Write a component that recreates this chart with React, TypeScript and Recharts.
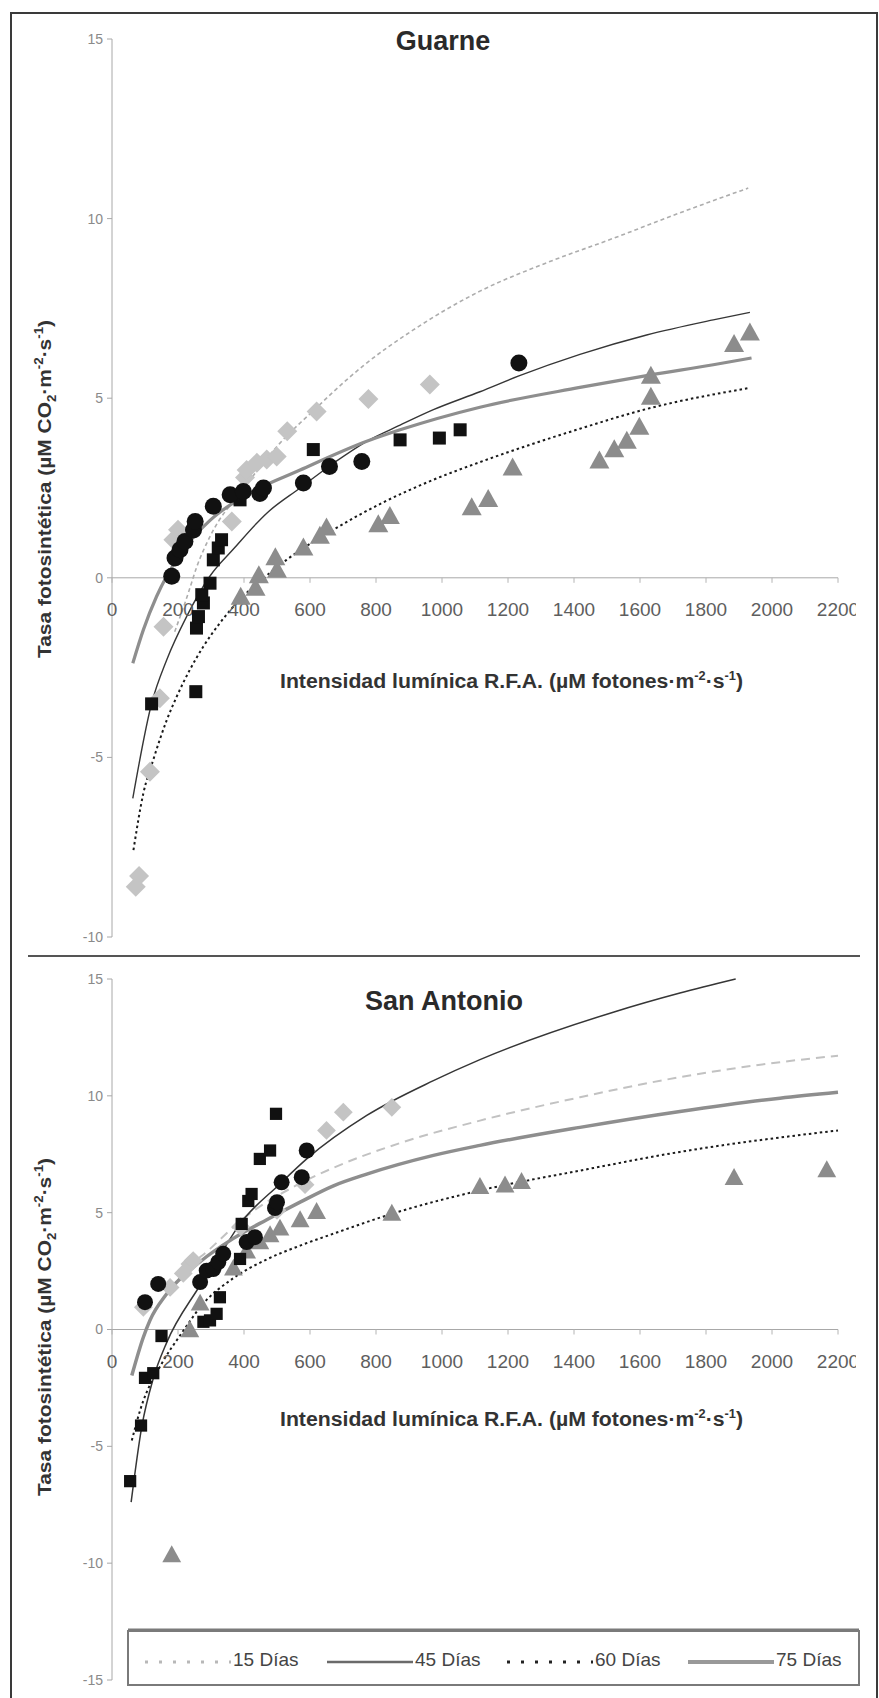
import { ComposedChart, Line, Scatter, XAxis, YAxis, ReferenceLine, ReferenceDot } from 'recharts';

type Pt = { x: number; y: number };
const toPts = (rows: number[][]): Pt[] => rows.map(([x, y]) => ({ x, y }));

// axis ticks
const xTicks = [0, 200, 400, 600, 800, 1000, 1200, 1400, 1600, 1800, 2000, 2200];
const guarneYTicks = [15, 10, 5, 0, -5, -10];
const sanAntonioYTicks = [15, 10, 5, 0, -5, -10, -15];
const seriesNames = ['15 Días', '45 Días', '60 Días', '75 Días'];

// Guarne - measured points
const guarneDiamonds = toPts([[72, -8.6], [82, -8.3], [115, -5.4], [145, -3.35], [156, -1.36], [186, 1.06], [200, 1.34], [363, 1.57], [403, 2.79], [408, 3.0], [439, 3.2], [469, 3.29], [499, 3.38], [531, 4.08], [620, 4.63], [777, 4.98], [963, 5.38]]);
const guarneSquares = toPts([[120, -3.51], [254, -3.17], [256, -1.4], [262, -1.08], [277, -0.7], [272, -0.47], [297, -0.15], [307, 0.5], [322, 0.83], [332, 1.06], [388, 2.17], [610, 3.57], [873, 3.84], [992, 3.89], [1055, 4.12]]);
const guarneCircles = toPts([[181, 0.04], [191, 0.55], [206, 0.78], [221, 1.01], [247, 1.33], [252, 1.57], [307, 1.99], [358, 2.31], [398, 2.4], [448, 2.35], [459, 2.5], [580, 2.64], [659, 3.1], [757, 3.24], [1233, 5.98]]);
const guarneTriangles = toPts([[390, -0.5], [435, -0.25], [445, 0.1], [500, 0.25], [495, 0.6], [580, 0.87], [630, 1.2], [650, 1.43], [807, 1.52], [842, 1.75], [1090, 1.99], [1140, 2.22], [1214, 3.1], [1477, 3.29], [1522, 3.61], [1560, 3.84], [1598, 4.23], [1633, 5.07], [1633, 5.65], [1885, 6.54], [1933, 6.86]]);

// Guarne - fitted curves
const guarneCurve15 = toPts([[190, -1.5], [231, -0.43], [257, 0.31], [297, 1.15], [400, 2.5], [509, 3.75], [570, 4.31], [610, 4.65], [671, 5.18], [761, 5.9], [913, 6.9], [1115, 7.98], [1317, 8.77], [1519, 9.45], [1721, 10.16], [1928, 10.85]]);
const guarneCurve45 = toPts([[63, -6.14], [120, -3.5], [166, -2.28], [226, -1.08], [297, 0.05], [368, 0.8], [469, 1.8], [570, 2.5], [671, 3.19], [772, 3.8], [873, 4.25], [974, 4.68], [1115, 5.18], [1233, 5.62], [1418, 6.22], [1620, 6.76], [1822, 7.18], [1933, 7.39]]);
const guarneCurve60 = toPts([[65, -7.58], [95, -6.0], [125, -5.07], [166, -3.96], [196, -3.31], [236, -2.56], [277, -1.91], [327, -1.26], [388, -0.6], [448, -0.1], [529, 0.5], [671, 1.34], [822, 2.1], [974, 2.73], [1115, 3.22], [1418, 4.15], [1620, 4.7], [1928, 5.28]]);
const guarneCurve75 = toPts([[63, -2.38], [95, -1.45], [135, -0.52], [166, 0.05], [226, 0.9], [297, 1.6], [418, 2.36], [570, 3.0], [772, 3.8], [873, 4.12], [1115, 4.75], [1418, 5.3], [1633, 5.65], [1822, 5.93], [1938, 6.12]]);

// San Antonio - measured points
const saDiamonds = toPts([[95, 0.95], [176, 1.8], [216, 2.4], [236, 2.8], [246, 2.95], [390, 4.4], [500, 5.1], [585, 6.2], [650, 8.52], [701, 9.3], [848, 9.51]]);
const saSquares = toPts([[55, -6.49], [88, -4.11], [100, -2.07], [125, -1.87], [150, -0.28], [277, 0.33], [297, 0.39], [317, 0.67], [327, 1.38], [388, 3.02], [393, 4.52], [413, 5.5], [423, 5.8], [448, 7.3], [479, 7.66], [497, 9.23]]);
const saCircles = toPts([[100, 1.17], [140, 1.95], [267, 2.03], [287, 2.52], [307, 2.59], [322, 2.88], [337, 3.24], [408, 3.74], [433, 3.95], [494, 5.2], [500, 5.45], [514, 6.3], [575, 6.52], [590, 7.66]]);
const saTriangles = toPts([[181, -9.6], [236, 0.03], [267, 1.17], [368, 2.67], [408, 3.4], [448, 3.8], [479, 4.1], [509, 4.38], [570, 4.74], [620, 5.09], [848, 5.02], [1115, 6.16], [1191, 6.23], [1241, 6.38], [1885, 6.55], [2166, 6.88]]);

// San Antonio - fitted curves
const saCurve15 = toPts([[200, 2.1], [216, 2.4], [297, 3.45], [398, 4.75], [570, 6.25], [671, 6.92], [873, 7.98], [1115, 8.94], [1418, 9.94], [1721, 10.8], [2024, 11.44], [2200, 11.72]]);
const saCurve45 = toPts([[58, -7.39], [90, -4.18], [125, -2.1], [166, -0.55], [257, 1.67], [317, 2.95], [388, 4.52], [509, 6.23], [590, 7.3], [772, 9.16], [974, 10.65], [1115, 11.55], [1519, 13.58], [1721, 14.4], [1890, 15.0]]);
const saCurve60 = toPts([[60, -4.75], [85, -3.47], [156, -1.33], [206, -0.26], [231, 0.25], [267, 0.95], [368, 2.2], [469, 3.0], [570, 3.59], [671, 4.1], [848, 4.95], [1115, 5.95], [1418, 6.8], [1721, 7.6], [2200, 8.52]]);
const saCurve75 = toPts([[60, -1.97], [95, -0.33], [115, 0.39], [166, 1.53], [267, 2.9], [368, 3.9], [469, 4.7], [570, 5.45], [671, 6.15], [772, 6.65], [974, 7.45], [1115, 7.88], [1418, 8.65], [1721, 9.33], [2024, 9.9], [2200, 10.15]]);

const FONT = '"Liberation Sans", Arial, sans-serif';
const CHART_W = 856;

const diamond = (s: number, fill: string) => (p: any) => (
  <path d={`M${p.cx},${p.cy - s}L${p.cx + s},${p.cy}L${p.cx},${p.cy + s}L${p.cx - s},${p.cy}Z`} fill={fill} />
);
const square = (s: number, fill: string) => (p: any) => (
  <rect x={p.cx - s} y={p.cy - s} width={s * 2} height={s * 2} fill={fill} />
);
const circle = (r: number, fill: string) => (p: any) => <circle cx={p.cx} cy={p.cy} r={r} fill={fill} />;
const triangle = (w: number, h: number, fill: string) => (p: any) => (
  <path d={`M${p.cx},${p.cy - h / 2}L${p.cx + w / 2},${p.cy + h / 2}L${p.cx - w / 2},${p.cy + h / 2}Z`} fill={fill} />
);

function XTick({ cx, cy, value }: any) {
  return (
    <g>
      <line x1={cx} y1={cy} x2={cx} y2={cy + 5} stroke="#b4b4b4" />
      <text x={cx} y={cy + 38} textAnchor="middle" fill="#5e5e5e" fontSize={19} fontFamily={FONT}>
        {value}
      </text>
    </g>
  );
}

type PanelProps = {
  height: number;
  top: number;
  bottom: number;
  yDomain: [number, number];
  yTicks: number[];
  diamonds: Pt[];
  squares: Pt[];
  circles: Pt[];
  triangles: Pt[];
  curves: Pt[][];
  curveStyles: any[];
  small?: boolean;
};

function Panel(props: PanelProps) {
  const k = props.small ? 0.94 : 1;
  return (
    <ComposedChart width={CHART_W} height={props.height} margin={{ top: props.top, right: CHART_W - 838, bottom: props.bottom, left: 52 }}>
      <XAxis type="number" dataKey="x" domain={[0, 2200]} hide />
      <YAxis
        type="number"
        dataKey="y"
        domain={props.yDomain}
        ticks={props.yTicks}
        interval={0}
        width={60}
        axisLine={{ stroke: '#a8a8a8' }}
        tickLine={{ stroke: '#a8a8a8' }}
        tickSize={5}
        tickMargin={4}
        tick={{ fill: '#8a8a8a', fontSize: 14, fontFamily: FONT }}
      />
      <ReferenceLine y={0} stroke="#a8a8a8" />
      {xTicks.map((t) => (
        <ReferenceDot key={t} x={t} y={0} shape={(p: any) => <XTick {...p} value={t} />} />
      ))}
      <Scatter data={props.diamonds} dataKey="y" shape={diamond(10 * k, '#c4c4c4')} isAnimationActive={false} />
      <Scatter data={props.triangles} dataKey="y" shape={triangle(20 * k, 18 * k, '#8c8c8c')} isAnimationActive={false} />
      <Scatter data={props.squares} dataKey="y" shape={square(6.5 * k, '#111')} isAnimationActive={false} />
      <Scatter data={props.circles} dataKey="y" shape={circle(8.5 * k, '#111')} isAnimationActive={false} />
      {props.curves.map((c, i) => (
        <Line
          key={seriesNames[i]}
          name={seriesNames[i]}
          data={c}
          dataKey="y"
          type="monotone"
          dot={false}
          activeDot={false}
          isAnimationActive={false}
          {...props.curveStyles[i]}
        />
      ))}
    </ComposedChart>
  );
}

const guarneStyles = [
  { stroke: '#adadad', strokeWidth: 1.6, strokeDasharray: '4 3' },
  { stroke: '#363636', strokeWidth: 1.4 },
  { stroke: '#1a1a1a', strokeWidth: 2, strokeDasharray: '2.5 3' },
  { stroke: '#8e8e8e', strokeWidth: 3.2 },
];
const saStyles = [
  { stroke: '#c2c2c2', strokeWidth: 2, strokeDasharray: '9 6' },
  { stroke: '#363636', strokeWidth: 1.5 },
  { stroke: '#1a1a1a', strokeWidth: 2, strokeDasharray: '2.5 3' },
  { stroke: '#8e8e8e', strokeWidth: 3.5 },
];
const legendStyles = [
  { stroke: '#b8b8b8', strokeWidth: 3, strokeDasharray: '3 11' },
  { stroke: '#6a6a6a', strokeWidth: 2.5 },
  { stroke: '#222', strokeWidth: 3, strokeDasharray: '3 11' },
  { stroke: '#999', strokeWidth: 4 },
];
const legendX = [145, 327, 507, 688];

function YTitle({ x, y }: { x: number; y: number }) {
  return (
    <text
      transform={`translate(${x},${y}) rotate(-90)`}
      textAnchor="middle"
      fontSize={19}
      fontWeight="bold"
      fill="#333"
      fontFamily={FONT}
      textLength={338}
      lengthAdjust="spacingAndGlyphs"
    >
      Tasa fotosintética (µM CO<tspan fontSize={12} dy={5}>2</tspan>
      <tspan dy={-5}>·m</tspan>
      <tspan fontSize={12} dy={-8}>-2</tspan>
      <tspan dy={8}>·s</tspan>
      <tspan fontSize={12} dy={-8}>-1</tspan>
      <tspan dy={8}>)</tspan>
    </text>
  );
}

function XTitle({ y }: { y: number }) {
  return (
    <text x={280} y={y} fontSize={20} fontWeight="bold" fill="#333" fontFamily={FONT} textLength={463} lengthAdjust="spacingAndGlyphs">
      Intensidad lumínica R.F.A. (µM fotones·m<tspan fontSize={12} dy={-8}>-2</tspan>
      <tspan dy={8}>·s</tspan>
      <tspan fontSize={12} dy={-8}>-1</tspan>
      <tspan dy={8}>)</tspan>
    </text>
  );
}

export default function App() {
  return (
    <div style={{ position: 'absolute', left: 0, top: 0, width: 879, height: 1698, background: '#fff', overflow: 'hidden' }}>
      <div style={{ position: 'absolute', left: 0, top: 0, width: CHART_W, height: 950, overflow: 'hidden' }}>
        <Panel
          height={950}
          top={39}
          bottom={13}
          yDomain={[-10, 15]}
          yTicks={guarneYTicks}
          diamonds={guarneDiamonds}
          squares={guarneSquares}
          circles={guarneCircles}
          triangles={guarneTriangles}
          curves={[guarneCurve15, guarneCurve45, guarneCurve60, guarneCurve75]}
          curveStyles={guarneStyles}
        />
      </div>
      <div style={{ position: 'absolute', left: 0, top: 960, width: CHART_W, height: 738, overflow: 'hidden' }}>
        <Panel
          height={738}
          top={19}
          bottom={18}
          yDomain={[-15, 15]}
          yTicks={sanAntonioYTicks}
          diamonds={saDiamonds}
          squares={saSquares}
          circles={saCircles}
          triangles={saTriangles}
          curves={[saCurve15, saCurve45, saCurve60, saCurve75]}
          curveStyles={saStyles}
          small
        />
      </div>
      <svg width={879} height={1698} style={{ position: 'absolute', left: 0, top: 0, pointerEvents: 'none' }}>
        <path d="M11,1698 V13 H877 V1698" fill="none" stroke="#3a3a3a" strokeWidth={2} />
        <line x1={28} y1={956} x2={860} y2={956} stroke="#555" strokeWidth={2} />
        <text x={443} y={50} textAnchor="middle" fontSize={27} fontWeight="bold" fill="#2a2a2a" fontFamily={FONT}>
          Guarne
        </text>
        <text x={444} y={1010} textAnchor="middle" fontSize={27} fontWeight="bold" fill="#2a2a2a" fontFamily={FONT}>
          San Antonio
        </text>
        <YTitle x={51} y={489} />
        <YTitle x={51} y={1327} />
        <XTitle y={688} />
        <XTitle y={1426} />
        <rect x={128} y={1631} width={731} height={54} fill="#fff" stroke="#7a7a7a" strokeWidth={2} />
        <line x1={128} y1={1630} x2={859} y2={1630} stroke="#7a7a7a" strokeWidth={3} />
        {seriesNames.map((n, i) => (
          <g key={n}>
            <line x1={legendX[i]} y1={1662} x2={legendX[i] + 86} y2={1662} {...legendStyles[i]} />
            <text x={legendX[i] + 88} y={1666} fontSize={19} fill="#444" fontFamily={FONT}>
              {n}
            </text>
          </g>
        ))}
      </svg>
    </div>
  );
}
